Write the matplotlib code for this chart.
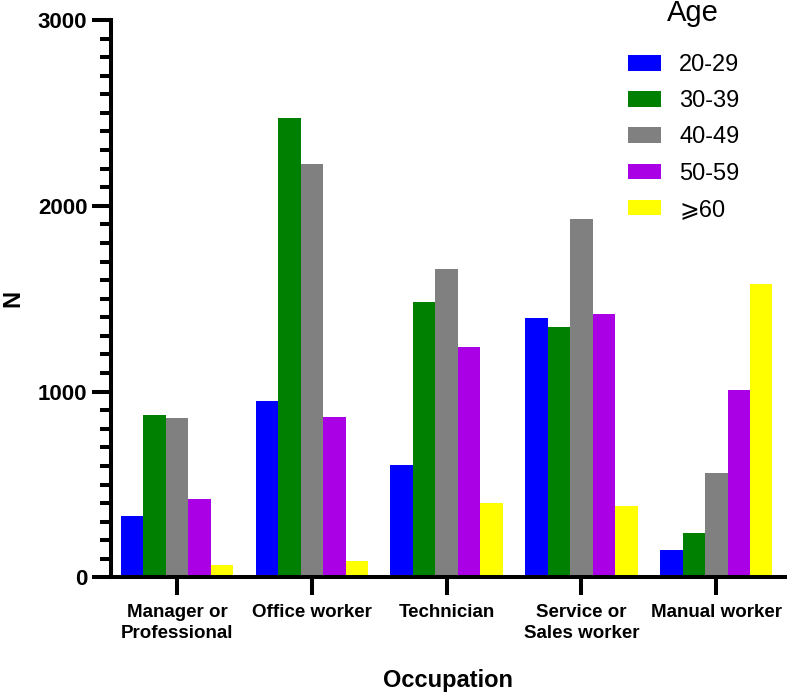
import numpy as np
import matplotlib
matplotlib.use("Agg")
import matplotlib.pyplot as plt
from matplotlib.ticker import MultipleLocator

plt.rcParams["font.family"] = ["Liberation Sans", "DejaVu Sans"]

occupations = ["Manager or\nProfessional", "Office worker", "Technician",
               "Service or\nSales worker", "Manual worker"]
age_groups = ["20-29", "30-39", "40-49", "50-59", "\u2a7e60"]
colors = ["#0000ff", "#008000", "#808080", "#aa00e6", "#ffff00"]

n_20_29 = [333, 952, 606, 1396, 149]
n_30_39 = [875, 2475, 1484, 1349, 240]
n_40_49 = [859, 2224, 1660, 1930, 564]
n_50_59 = [423, 862, 1242, 1418, 1009]
n_60_up = [66, 88, 403, 385, 1577]
series = [n_20_29, n_30_39, n_40_49, n_50_59, n_60_up]

fig = plt.figure(figsize=(7.87, 6.94), dpi=100)
ax = fig.add_axes([0.141, 0.168, 0.8565, 0.8032])

x = np.arange(len(occupations))
w = 1 / 6
for i, (vals, col, lab) in enumerate(zip(series, colors, age_groups)):
    ax.bar(x + (i - 2) * w, vals, width=w, color=col, label=lab,
           edgecolor="none", zorder=2)

ax.set_xlim(-0.49, 4.51)
ax.set_ylim(0, 3000)
ax.set_yticks([0, 1000, 2000, 3000])
ax.yaxis.set_minor_locator(MultipleLocator(100))
ax.set_xticks(x)
ax.set_xticklabels(occupations, fontsize=13.5, fontweight="bold",
                   linespacing=1.3)
ax.tick_params(axis="y", labelsize=16, width=2.9, length=14, pad=3)
for t in ax.get_yticklabels():
    t.set_fontweight("bold")
ax.tick_params(axis="y", which="minor", width=2.9, length=8)
ax.tick_params(axis="x", width=2.9, length=13, pad=6)

for s in ["top", "right"]:
    ax.spines[s].set_visible(False)
for s in ["left", "bottom"]:
    ax.spines[s].set_linewidth(2.9)

ax.set_xlabel("Occupation", fontsize=17, fontweight="bold", labelpad=20)
ax.set_ylabel("N", fontsize=17, fontweight="bold", labelpad=10)

leg = fig.legend(*ax.get_legend_handles_labels(), loc="upper left",
                 bbox_to_anchor=(628 / 787, 0.922), frameon=False,
                 fontsize=17, borderpad=0, borderaxespad=0,
                 handlelength=1.4, handleheight=0.64, handletextpad=0.76,
                 labelspacing=0.6)
fig.text(693 / 787, 0.981, "Age", fontsize=21, ha="center", va="center")

fig.savefig("out.png", dpi=100)
